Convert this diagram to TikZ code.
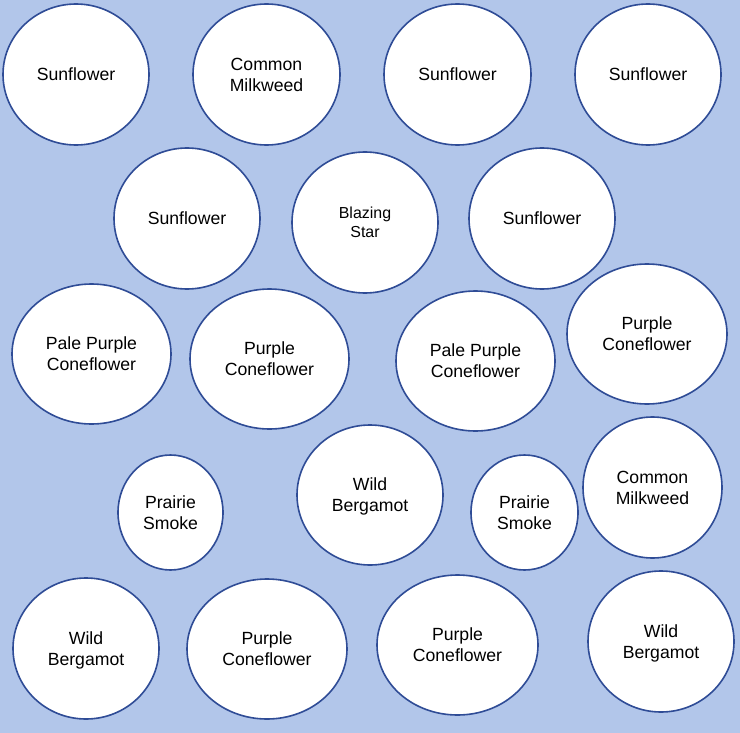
\documentclass[tikz,border=0pt]{standalone}
\usepackage{fontspec}
\setmainfont{Liberation Sans}
\usetikzlibrary{shapes.geometric}
\definecolor{bgblue}{RGB}{178,198,234}
\definecolor{rimblue}{RGB}{47,76,150}
\begin{document}
\begin{tikzpicture}[x=1bp,y=-1bp,
  plant/.style={ellipse,draw=rimblue,line width=1.6bp,fill=white,inner sep=0pt,
    align=center,font=\fontsize{17.7}{21}\selectfont},
  small/.style={font=\fontsize{16}{18.6}\selectfont}]
\fill[bgblue] (0,0) rectangle (740,733);
\useasboundingbox (0,0) rectangle (740,733);
% row 1
\node[plant,minimum width=146bp,minimum height=141bp] (s1) at (76,74.5) {Sunflower};
\node[plant,minimum width=147bp,minimum height=141bp] (cm1) at (266.5,74.5) {Common\\Milkweed};
\node[plant,minimum width=147bp,minimum height=141bp] (s2) at (457.5,74.5) {Sunflower};
\node[plant,minimum width=146bp,minimum height=141bp] (s3) at (648,74.5) {Sunflower};
% row 2
\node[plant,minimum width=146bp,minimum height=141bp] (s4) at (187,218.5) {Sunflower};
\node[plant,small,minimum width=146bp,minimum height=141bp] (bs) at (365,222.5) {Blazing\\Star};
\node[plant,minimum width=146bp,minimum height=141bp] (s5) at (542,218.5) {Sunflower};
% row 3
\node[plant,minimum width=159bp,minimum height=140bp] (pp1) at (91.5,354) {Pale Purple\\Coneflower};
\node[plant,minimum width=159bp,minimum height=140bp] (pc1) at (269.5,359) {Purple\\Coneflower};
\node[plant,minimum width=159bp,minimum height=140bp] (pp2) at (475.5,361) {Pale Purple\\Coneflower};
\node[plant,minimum width=160bp,minimum height=140bp] (pc2) at (647,334) {Purple\\Coneflower};
% row 4
\node[plant,minimum width=105bp,minimum height=115bp] (ps1) at (170.5,512.5) {Prairie\\Smoke};
\node[plant,minimum width=146bp,minimum height=140bp] (wb1) at (370,495) {Wild\\\smash{Bergamot}};
\node[plant,minimum width=107bp,minimum height=115bp] (ps2) at (524.5,512.5) {Prairie\\Smoke};
\node[plant,minimum width=139bp,minimum height=141bp] (cm2) at (652.5,487.5) {Common\\Milkweed};
% row 5
\node[plant,minimum width=146bp,minimum height=141bp] (wb2) at (86,648.5) {Wild\\\smash{Bergamot}};
\node[plant,minimum width=160bp,minimum height=140bp] (pc3) at (267,649) {Purple\\Coneflower};
\node[plant,minimum width=161bp,minimum height=140bp] (pc4) at (457.5,645) {Purple\\Coneflower};
\node[plant,minimum width=146bp,minimum height=141bp] (wb3) at (661,641.5) {Wild\\\smash{Bergamot}};
\end{tikzpicture}
\end{document}
